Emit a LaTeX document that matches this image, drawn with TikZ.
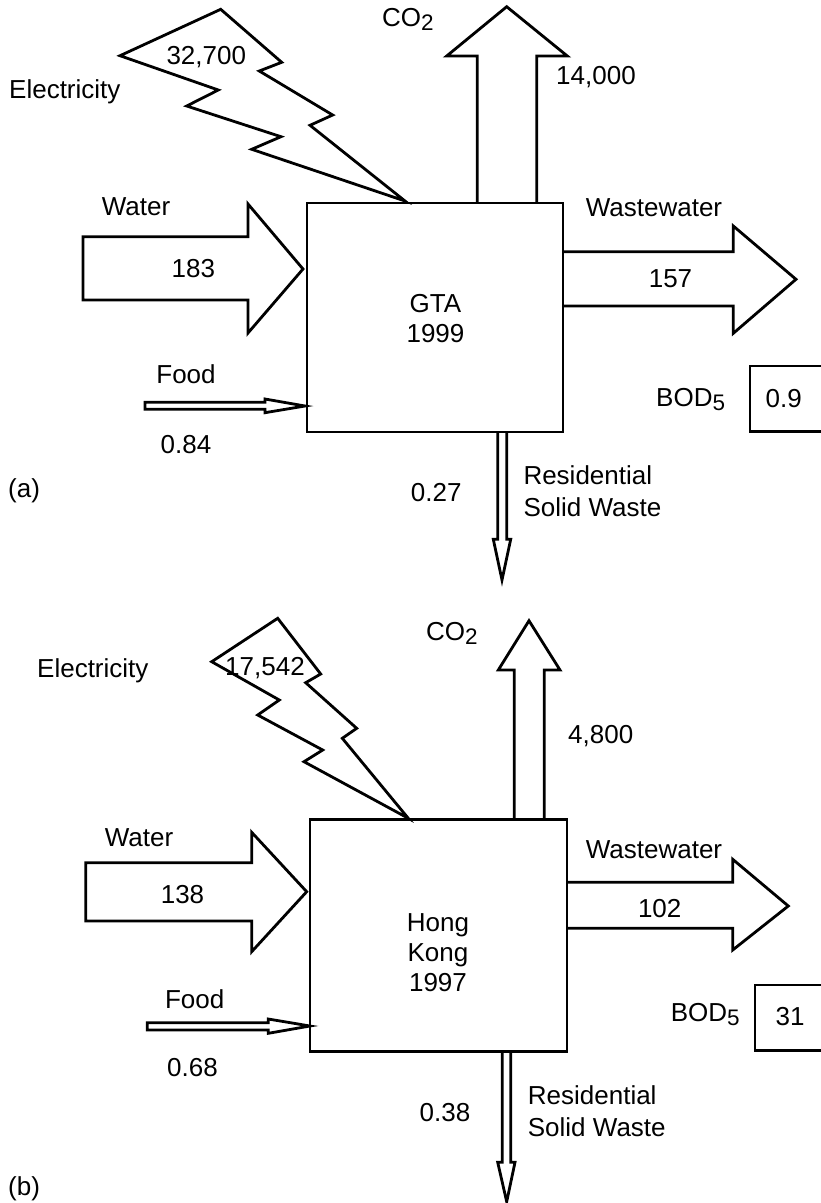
\documentclass[tikz,border=0pt]{standalone}
\usepackage{fontspec}
\setmainfont{Liberation Sans}
\newcommand{\subdigit}[1]{\raisebox{-4pt}{\fontsize{22.5}{22.5}\selectfont #1}}
\tikzset{
  flow/.style={draw=black, line width=2.8pt, line join=miter},
  procbox/.style={draw=black, line width=2.8pt, inner sep=0pt},
  lbl/.style={font=\fontsize{26}{30}\selectfont, inner sep=0pt, text=black},
}
\begin{document}
\begin{tikzpicture}[x=1pt,y=-1pt]
\useasboundingbox (0,0) rectangle (821,1203);

% ---------------- (a) GTA 1999 ----------------
\node[procbox, minimum width=256pt, minimum height=229pt] (gta) at (435,317.5) {};
\node[lbl, anchor=base] (gtaname) at (435.5,312) {GTA};
\node[lbl, anchor=base] (gtayear) at (435.5,342) {1999};

% electricity bolt
\draw[flow] (120,55.7) -- (220.7,9.3) -- (281.7,62.3) -- (259.3,71) -- (332.7,115)
  -- (310,125.3) -- (405,201) -- (251.7,149.3) -- (281,136.7) -- (186.7,106)
  -- (218.3,90) -- cycle;
\node[lbl, anchor=base] (elecA) at (206.3,64) {32,700};
\node[lbl, anchor=base west] (elecAlbl) at (9,98) {Electricity};

% CO2
\draw[flow] (477.3,203) -- (477.3,56) -- (446.7,56) -- (506.7,6.7) -- (567.3,56)
  -- (536.7,56) -- (536.7,203);
\node[lbl, anchor=base west] (co2A) at (382,26.7) {CO\subdigit{2}};
\node[lbl, anchor=base west] (co2Aval) at (556,84) {14,000};

% water
\draw[flow] (83,236.7) -- (248,236.7) -- (248,204) -- (303,269) -- (248,333)
  -- (248,300) -- (83,300) -- cycle;
\node[lbl, anchor=base] (waterA) at (136,215) {Water};
\node[lbl, anchor=base] (waterAval) at (193.3,277.3) {183};

% food
\draw[flow] (145,402.3) -- (265,402.3) -- (265,399) -- (305,406) -- (265,412.7)
  -- (265,409.3) -- (145,409.3) -- cycle;
\node[lbl, anchor=base] (foodA) at (186,383.3) {Food};
\node[lbl, anchor=base] (foodAval) at (186,453) {0.84};

% wastewater
\draw[flow] (563,251.7) -- (733.3,251.7) -- (733.3,226) -- (796,279.3) -- (733.3,333.3)
  -- (733.3,306) -- (563,306);
\node[lbl, anchor=base] (wwA) at (654,216) {Wastewater};
\node[lbl, anchor=base] (wwAval) at (670.5,287.7) {157};

% BOD
\node[lbl, anchor=base west] (bodA) at (656,406.7) {BOD\subdigit{5}};
\draw[procbox] (828,366) -- (750,366) -- (750,431.7) -- (828,431.7);
\node[lbl, anchor=base] (bodAval) at (783.7,407.3) {0.9};

% residential solid waste
\draw[flow] (497.7,432) -- (497.7,539.3) -- (493.3,539.3) -- (502,580) -- (510.7,539.3)
  -- (506.7,539.3) -- (506.7,432);
\node[lbl, anchor=base east] (rswA) at (461.7,501) {0.27};
\node[lbl, anchor=base west] (rswAl1) at (523.3,484) {Residential};
\node[lbl, anchor=base west] (rswAl2) at (523.3,516) {Solid Waste};

\node[lbl, anchor=base west] (tagA) at (8,497) {(a)};

% ---------------- (b) Hong Kong 1997 ----------------
\node[procbox, minimum width=257pt, minimum height=232.7pt] (hk) at (438.5,935.5) {};
\node[lbl, anchor=base] (hk1) at (438,931) {Hong};
\node[lbl, anchor=base] (hk2) at (438,961) {Kong};
\node[lbl, anchor=base] (hk3) at (438,991) {1997};

% electricity bolt
\draw[flow] (211.7,661.7) -- (277.7,618.3) -- (320.7,674) -- (305.7,682.7) -- (356.7,728.3)
  -- (342.3,738.3) -- (408.3,818.3) -- (304,761.7) -- (322.7,750) -- (257.7,715)
  -- (279.3,700) -- cycle;
\node[lbl, anchor=base] (elecB) at (265,675) {17,542};
\node[lbl, anchor=base west] (elecBlbl) at (37,677) {Electricity};

% CO2
\draw[flow] (514.3,819) -- (514.3,670) -- (498.3,670) -- (529,620.7) -- (560,670)
  -- (544.3,670) -- (544.3,819);
\node[lbl, anchor=base west] (co2B) at (426,640.7) {CO\subdigit{2}};
\node[lbl, anchor=base west] (co2Bval) at (568,743.3) {4,800};

% water
\draw[flow] (85.7,862.7) -- (251.7,862.7) -- (251.7,832.3) -- (306.7,891.7) -- (251.7,951.7)
  -- (251.7,921) -- (85.7,921) -- cycle;
\node[lbl, anchor=base] (waterB) at (139,846.7) {Water};
\node[lbl, anchor=base] (waterBval) at (182.5,903.3) {138};

% food
\draw[flow] (147.3,1022.7) -- (268.3,1022.7) -- (268.3,1019) -- (310,1026) -- (268.3,1033.3)
  -- (268.3,1030) -- (147.3,1030) -- cycle;
\node[lbl, anchor=base] (foodB) at (194.7,1008.3) {Food};
\node[lbl, anchor=base] (foodBval) at (192.5,1076) {0.68};

% wastewater
\draw[flow] (567,882.3) -- (732.7,882.3) -- (732.7,859.3) -- (788.3,906) -- (732.7,950)
  -- (732.7,928.3) -- (567,928.3);
\node[lbl, anchor=base] (wwB) at (654,858.3) {Wastewater};
\node[lbl, anchor=base] (wwBval) at (659.7,917.7) {102};

% BOD
\node[lbl, anchor=base west] (bodB) at (670.7,1021.7) {BOD\subdigit{5}};
\draw[procbox] (828,985) -- (755,985) -- (755,1050.7) -- (828,1050.7);
\node[lbl, anchor=base] (bodBval) at (790,1025) {31};

% residential solid waste
\draw[flow] (502.3,1052) -- (502.3,1162.3) -- (497.7,1162.3) -- (506.7,1201.7) -- (515,1162.3)
  -- (510.7,1162.3) -- (510.7,1052);
\node[lbl, anchor=base] (rswB) at (445,1121.7) {0.38};
\node[lbl, anchor=base west] (rswBl1) at (527.7,1104) {Residential};
\node[lbl, anchor=base west] (rswBl2) at (527.7,1136.7) {Solid Waste};

\node[lbl, anchor=base west] (tagB) at (8,1195) {(b)};
\end{tikzpicture}
\end{document}
